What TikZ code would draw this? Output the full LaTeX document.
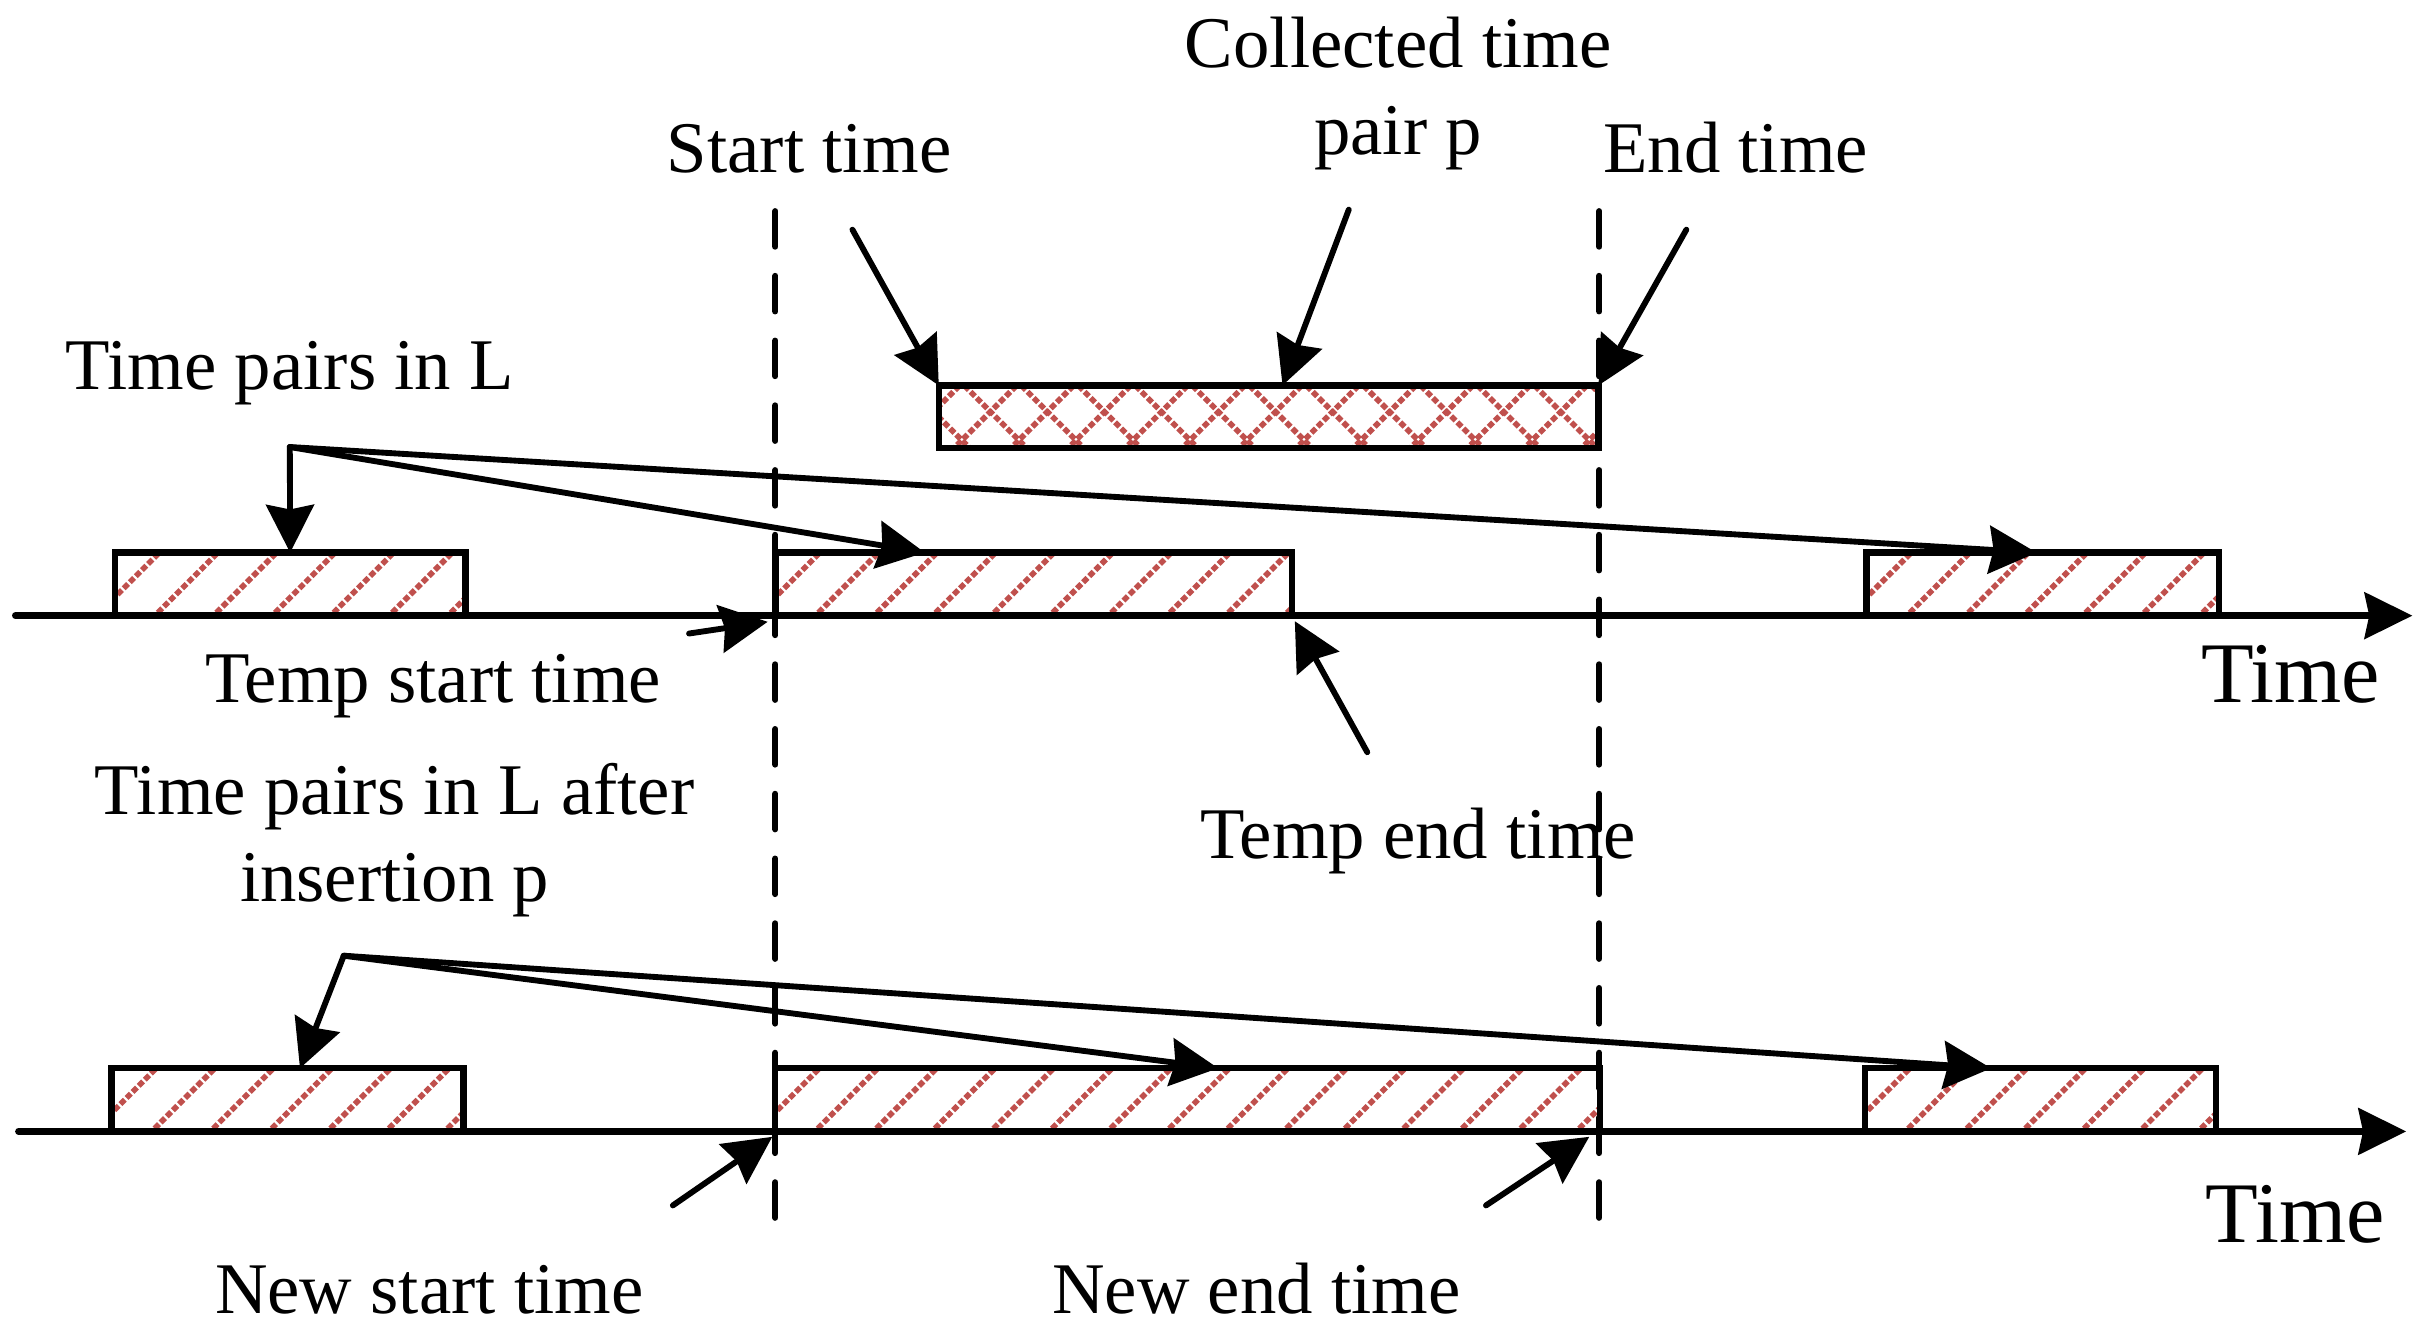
\documentclass[tikz,border=0pt]{standalone}
\usepackage{fontspec}
\setmainfont{Liberation Serif}
\usetikzlibrary{arrows.meta}
\definecolor{hatchred}{RGB}{192,80,77}
\begin{document}
\begin{tikzpicture}[x=0.5pt,y=-0.5pt,
  axisline/.style={line width=2.2pt, line cap=round, -{Stealth[length=15.5pt,width=15pt,inset=1.5pt]}},
  pointer/.style={line width=1.9pt, line cap=round, -{Stealth[length=15.5pt,width=15.5pt,inset=1.5pt]}},
  guide/.style={line width=2pt, line cap=round, dash pattern=on 11.5pt off 9.5pt},
  hatchline/.style={draw=hatchred, line width=1.8pt, dash pattern=on 2pt off 0.8pt},
  slot/.style={draw, line width=2.1pt, inner sep=0pt, outer sep=0pt},
  single hatch/.style={path picture={
    \foreach \k in {-2,...,16}{
      \draw[hatchline] ([xshift={\k*19pt+13pt-5pt}, yshift=-5pt]path picture bounding box.south west) -- ++(32pt,32pt);
    }}},
  cross hatch/.style={path picture={
    \foreach \k in {-2,...,16}{
      \draw[hatchline] ([xshift={\k*18.5pt+5pt-5pt}, yshift=-5pt]path picture bounding box.south west) -- ++(32pt,32pt);
      \draw[hatchline] ([xshift={\k*18.5pt+10pt+5pt}, yshift=-5pt]path picture bounding box.south west) -- ++(-32pt,32pt);
    }}},
  txt/.style={font=\fontsize{23.6}{28.2}\selectfont, inner sep=0pt, anchor=base, align=center},
  axistxt/.style={font=\fontsize{28}{33}\selectfont, inner sep=0pt, anchor=base}
]
\useasboundingbox (0,0) rectangle (1568,865.4);

% dashed guide lines
\coordinate (g1t) at (503,137);
\coordinate (g1b) at (503,802);
\coordinate (g2t) at (1037.5,137);
\coordinate (g2b) at (1037.5,802);
\draw[guide] (g1t) -- (g1b);
\draw[guide] (g2t) -- (g2b);

% collected time pair p
\node[slot, cross hatch, minimum width=214pt, minimum height=20.3pt] (P) at (823,270.3) {};

% time pairs in L (top row)
\node[slot, single hatch, minimum width=113.75pt, minimum height=20.45pt] (A) at (188.25,378.95) {};
\node[slot, single hatch, minimum width=167.5pt, minimum height=20.45pt] (B) at (670.5,378.95) {};
\node[slot, single hatch, minimum width=114.25pt, minimum height=20.45pt] (C) at (1325.25,378.95) {};

% time pairs after insertion (bottom row)
\node[slot, single hatch, minimum width=114.2pt, minimum height=20.5pt] (D) at (186.6,713.5) {};
\node[slot, single hatch, minimum width=267.7pt, minimum height=20.5pt] (E) at (770.3,713.5) {};
\node[slot, single hatch, minimum width=113.75pt, minimum height=20.5pt] (F) at (1323.75,713.5) {};

% time axes
\coordinate (ax1s) at (10,399.4);
\coordinate (ax1e) at (1565,399.4);
\coordinate (ax2s) at (12,734);
\coordinate (ax2e) at (1561,734);
\draw[axisline] (ax1s) -- (ax1e);
\draw[axisline] (ax2s) -- (ax2e);

% labels
\node[txt] (lcol) at (907,100) {Collected time\\pair p};
\node[txt] (lst) at (525,112) {Start time};
\node[txt] (len) at (1126,112) {End time};
\node[txt] (lL) at (188,253) {Time pairs in L};
\node[txt] (ltst) at (281,456) {Temp start time};
\node[axistxt] (lt1) at (1486,456) {Time};
\node[txt] (lLa) at (256,585) {Time pairs in L after\\insertion p};
\node[txt] (lten) at (920,557) {Temp end time};
\node[axistxt] (lt2) at (1489,806) {Time};
\node[txt] (lnst) at (278.5,852) {New start time};
\node[txt] (lnen) at (815,852) {New end time};

% pointers to the collected pair
\coordinate (sA) at (553,149);
\coordinate (sP) at (875,136);
\coordinate (sE) at (1094,149);
\draw[pointer] (sA) -- (P.north west);
\draw[pointer] (sP) -- ([xshift=4.5pt]P.north);
\draw[pointer] (sE) -- (P.north east);

% pointers from "Time pairs in L"
\coordinate (oL) at (188,290);
\draw[pointer] (oL) -- (A.north);
\draw[pointer] (oL) -- ([xshift=48.5pt]B.north west);
\draw[pointer] (oL) -- ([xshift=-2pt]C.north);

% temp start / end
\coordinate (sTs) at (447,411);
\coordinate (sTe) at (887,488);
\draw[pointer] (sTs) -- ([xshift=-2.5pt,yshift=-2pt]B.south west);
\draw[pointer] (sTe) -- ([xshift=1pt,yshift=-1.8pt]B.south east);

% pointers from "Time pairs in L after insertion p"
\coordinate (oLa) at (223,620);
\draw[pointer] (oLa) -- ([xshift=4pt]D.north);
\draw[pointer] (oLa) -- ([xshift=10pt]E.north);
\draw[pointer] (oLa) -- ([xshift=-16pt]F.north);

% new start / end
\coordinate (sNs) at (436.5,782);
\coordinate (sNe) at (964,782);
\draw[pointer] (sNs) -- ([xshift=-0.8pt,yshift=-1.75pt]E.south west);
\draw[pointer] (sNe) -- ([xshift=-3.5pt,yshift=-1.75pt]E.south east);
\end{tikzpicture}
\end{document}
